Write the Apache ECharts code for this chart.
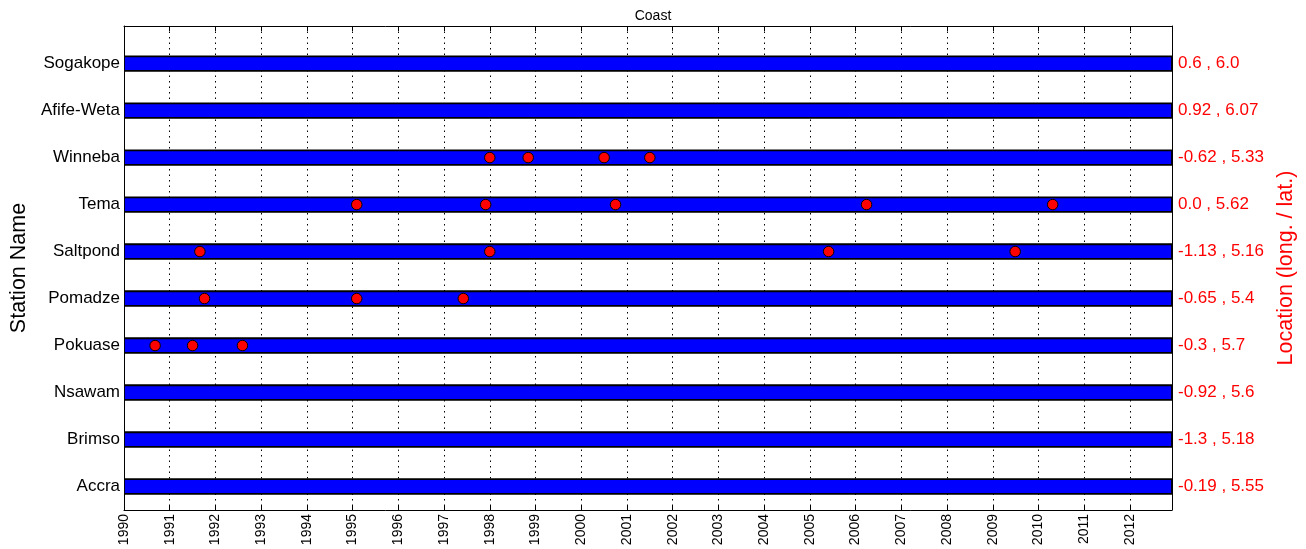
<!DOCTYPE html>
<html>
<head>
<meta charset="utf-8">
<script src="https://cdn.jsdelivr.net/npm/echarts@6/dist/echarts.min.js"></script>
<style>html,body{margin:0;padding:0;background:#fff}#c{width:1306px;height:549px}</style>
</head>
<body>
<div id="c"></div>
<script>
// Stations listed bottom to top (row 1 = Accra)
const stations = ['Accra','Brimso','Nsawam','Pokuase','Pomadze','Saltpond','Tema','Winneba','Afife-Weta','Sogakope'];
const locations = ['-0.19 , 5.55','-1.3 , 5.18','-0.92 , 5.6','-0.3 , 5.7','-0.65 , 5.4','-1.13 , 5.16','0.0 , 5.62','-0.62 , 5.33','0.92 , 6.07','0.6 , 6.0'];
const periodStart = [1990,1990,1990,1990,1990,1990,1990,1990,1990,1990];
const periodEnd = [2012.92,2012.92,2012.92,2012.92,2012.92,2012.92,2012.92,2012.92,2012.92,2012.92];
// event dates (decimal years) per station
const eventsPokuase = [1990.68, 1991.50, 1992.59];
const eventsPomadze = [1991.76, 1995.09, 1997.42];
const eventsSaltpond = [1991.66, 1998.00, 2005.41, 2009.49];
const eventsTema = [1995.09, 1997.91, 2000.75, 2006.24, 2010.31];
const eventsWinneba = [1998.00, 1998.84, 2000.50, 2001.50];
const yearTicks = [1990,1991,1992,1993,1994,1995,1996,1997,1998,1999,2000,2001,2002,2003,2004,2005,2006,2007,2008,2009,2010,2011,2012];

const rows = stations.map((s, i) => i + 1);
const eventRows = [
  ['Pokuase', eventsPokuase], ['Pomadze', eventsPomadze], ['Saltpond', eventsSaltpond],
  ['Tema', eventsTema], ['Winneba', eventsWinneba]
];
const dots = [];
eventRows.forEach(([name, arr]) => {
  const r = stations.indexOf(name) + 1;
  arr.forEach(x => dots.push([x, r]));
});
const bars = stations.map((s, i) => [periodStart[i], periodEnd[i], i + 1]);

const FONT = 'Liberation Sans, Arial, sans-serif';
const chart = echarts.init(document.getElementById('c'), null, {renderer: 'canvas'});
chart.setOption({
  animation: false,
  backgroundColor: '#fff',
  title: {
    text: 'Coast', left: 648, top: 4, textAlign: 'center',
    textStyle: {fontFamily: FONT, fontSize: 14, fontWeight: 'normal', color: '#000'}
  },
  grid: {left: 124, right: 134, top: 26, bottom: 39, containLabel: false, outerBoundsMode: 'none'},
  xAxis: [
    {
      type: 'value', min: 1990, max: 2012.92, position: 'bottom',
      axisLine: {show: true, onZero: false, lineStyle: {color: '#000', width: 1}},
      axisTick: {show: true, inside: true, length: 5, customValues: yearTicks, lineStyle: {color: '#000'}},
      axisLabel: {
        customValues: yearTicks,
        rotate: 90, fontFamily: FONT, fontSize: 14, color: '#000', margin: 4,
        formatter: v => String(Math.round(v))
      },
      splitLine: {show: true, lineStyle: {color: '#000', type: [1.5, 4], width: 1}},
      interval: 1
    },
    {
      type: 'value', min: 1990, max: 2012.92, position: 'top',
      axisLine: {show: true, onZero: false, lineStyle: {color: '#000', width: 1}},
      axisTick: {show: true, inside: true, length: 5, customValues: yearTicks, lineStyle: {color: '#000'}},
      axisLabel: {show: false},
      splitLine: {show: false}
    }
  ],
  yAxis: [
    {
      type: 'value', min: 0.5, max: 10.8, position: 'left',
      name: 'Station Name', nameLocation: 'middle', nameRotate: 90, nameGap: 92,
      nameTextStyle: {fontFamily: FONT, fontSize: 21.5, color: '#000'},
      axisLine: {show: true, onZero: false, lineStyle: {color: '#000'}},
      axisTick: {show: true, inside: true, length: 5, customValues: rows, lineStyle: {color: '#000'}},
      axisLabel: {
        customValues: rows, fontFamily: FONT, fontSize: 17, color: '#000', margin: 4,
        formatter: v => stations[Math.round(v) - 1] || ''
      },
      splitLine: {show: false}
    },
    {
      type: 'value', min: 0.5, max: 10.8, position: 'right',
      name: 'Location (long. / lat.)', nameLocation: 'middle', nameRotate: 90, nameGap: 102,
      nameTextStyle: {fontFamily: FONT, fontSize: 21.5, color: '#ff0000'},
      axisLine: {show: true, onZero: false, lineStyle: {color: '#000'}},
      axisTick: {show: true, inside: true, length: 5, customValues: rows, lineStyle: {color: '#000'}},
      axisLabel: {
        customValues: rows, fontFamily: FONT, fontSize: 17, color: '#ff0000', margin: 6,
        formatter: v => locations[Math.round(v) - 1] || ''
      },
      splitLine: {show: false}
    }
  ],
  series: [
    {
      type: 'custom',
      xAxisIndex: 0,
      yAxisIndex: 0,
      data: bars,
      encode: {x: [0, 1], y: 2},
      clip: true,
      renderItem: (params, api) => {
        const y = api.value(2);
        const p0 = api.coord([api.value(0), y + 0.155]);
        const p1 = api.coord([api.value(1), y - 0.155]);
        return {
          type: 'rect',
          shape: {x: p0[0], y: p0[1], width: p1[0] - p0[0], height: p1[1] - p0[1]},
          style: {fill: '#0000ff', stroke: '#000', lineWidth: 1.8}
        };
      },
      z: 2
    },
    {
      type: 'scatter',
      xAxisIndex: 0,
      yAxisIndex: 0,
      data: dots,
      symbol: 'circle',
      symbolSize: 10.5,
      itemStyle: {color: '#ff0000', borderColor: '#000', borderWidth: 1, opacity: 1},
      z: 3
    }
  ]
});
</script>
</body>
</html>
